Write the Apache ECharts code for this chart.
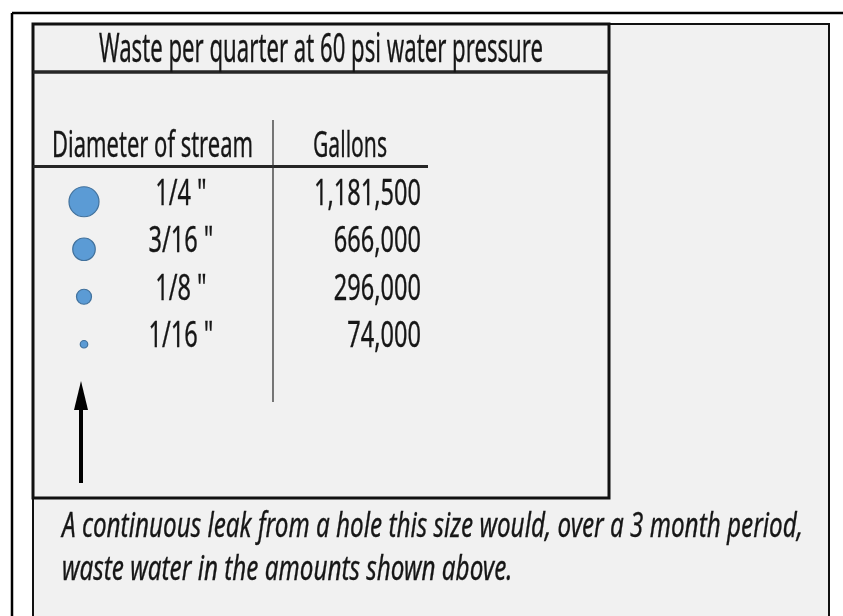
<!DOCTYPE html>
<html>
<head>
<meta charset="utf-8">
<title>Waste per quarter at 60 psi water pressure</title>
<script src="https://cdn.jsdelivr.net/npm/echarts@6/dist/echarts.min.js"></script>
<style>
  html, body { margin: 0; padding: 0; background: #fff; }
  #chart { width: 843px; height: 616px; }
</style>
</head>
<body>
<div id="chart"></div>
<script>
// leak size and the water it wastes per quarter
const diameterLabels = ['1/4 "', '3/16 "', '1/8 "', '1/16 "'];
const diameterInches = [0.25, 0.1875, 0.125, 0.0625];
const gallons = [1181500, 666000, 296000, 74000];

const titleText = 'Waste per quarter at 60 psi water pressure';
const columnHeaders = ['Diameter of stream', 'Gallons'];
const noteLines = [
  'A continuous leak from a hole this size would, over a 3 month period,',
  'waste water in the amounts shown above.'
];

const FONT = '"Noto Sans", "Open Sans", sans-serif';
const INK = '#161616';
const DOT_PX_PER_INCH = 120;

// the original face is very narrow, so squeeze a normal one to the same width
const measureCtx = document.createElement('canvas').getContext('2d');
function squeeze(text, size, width, style) {
  measureCtx.font = (style || 'normal') + ' ' + size + 'px ' + FONT;
  return width / measureCtx.measureText(text).width;
}

const ROW_SIZE = 36;
const rowScale = squeeze('1,181,500', ROW_SIZE, 107);
const noteScale = squeeze(noteLines[0], 35, 741, 'italic');

function label(text, x, y, size, scaleX, align, style) {
  return {
    type: 'text',
    x: x,
    y: y,
    scaleX: scaleX,
    style: {
      text: text,
      fill: INK,
      stroke: INK,
      lineWidth: 0.35,
      font: (style || 'normal') + ' ' + size + 'px ' + FONT,
      align: align || 'center',
      verticalAlign: 'middle'
    }
  };
}

function renderRow(params, api) {
  const y = api.coord([0, api.value(1)])[1];
  const dot = api.value(2) * DOT_PX_PER_INCH;
  const amount = api.value(3);
  return {
    type: 'group',
    children: [
      {
        type: 'circle',
        shape: { cx: 84, cy: y + 10, r: dot / 2 },
        style: { fill: '#5b9bd5', stroke: '#41719c', lineWidth: 1.2 }
      },
      label(diameterLabels[params.dataIndex], 181, y + 2.5, ROW_SIZE, rowScale, 'center'),
      label(amount.toLocaleString('en-US'), 421, y + 2.5, ROW_SIZE, rowScale, 'right')
    ]
  };
}

const chart = echarts.init(document.getElementById('chart'));

chart.setOption({
  backgroundColor: '#ffffff',
  animation: false,
  grid: { left: 33, top: 168, width: 576, height: 190 },
  xAxis: { type: 'value', min: 0, max: 1, show: false },
  yAxis: { type: 'category', data: diameterLabels, inverse: true, show: false },
  graphic: [
    // outer frame
    { type: 'line', shape: { x1: 12, y1: 13, x2: 843, y2: 13 }, style: { stroke: '#000', lineWidth: 2.5 } },
    { type: 'line', shape: { x1: 12, y1: 13, x2: 12, y2: 616 }, style: { stroke: '#000', lineWidth: 2.5 } },
    // grey panel
    { type: 'rect', shape: { x: 33, y: 24, width: 796, height: 600 }, style: { fill: '#f1f1f1', stroke: '#111', lineWidth: 2 } },
    // table box
    { type: 'rect', shape: { x: 33, y: 24, width: 576, height: 474 }, style: { fill: 'none', stroke: '#111', lineWidth: 3 } },
    { type: 'line', shape: { x1: 33, y1: 72, x2: 609, y2: 72 }, style: { stroke: '#262626', lineWidth: 3.5 } },
    { type: 'line', shape: { x1: 33, y1: 166.5, x2: 428, y2: 166.5 }, style: { stroke: '#262626', lineWidth: 3 } },
    { type: 'line', shape: { x1: 273, y1: 120, x2: 273, y2: 402 }, style: { stroke: '#333', lineWidth: 1.3 } },
    // texts
    label(titleText, 321, 51, 40, squeeze(titleText, 40, 444)),
    label(columnHeaders[0], 152.5, 147, ROW_SIZE, squeeze(columnHeaders[0], ROW_SIZE, 201)),
    label(columnHeaders[1], 350, 147, ROW_SIZE, squeeze(columnHeaders[1], ROW_SIZE, 74)),
    label(noteLines[0], 62, 527.5, 35, noteScale, 'left', 'italic'),
    label(noteLines[1], 62, 570.5, 35, noteScale, 'left', 'italic'),
    // arrow pointing up at the dots
    { type: 'rect', shape: { x: 79, y: 405, width: 4, height: 78 }, style: { fill: '#000' } },
    { type: 'polygon', shape: { points: [[81, 381], [88, 410], [74, 410]] }, style: { fill: '#000' } }
  ],
  series: [
    {
      type: 'custom',
      renderItem: renderRow,
      data: diameterLabels.map((d, i) => [0, i, diameterInches[i], gallons[i]]),
      silent: true
    }
  ]
});
</script>
</body>
</html>
